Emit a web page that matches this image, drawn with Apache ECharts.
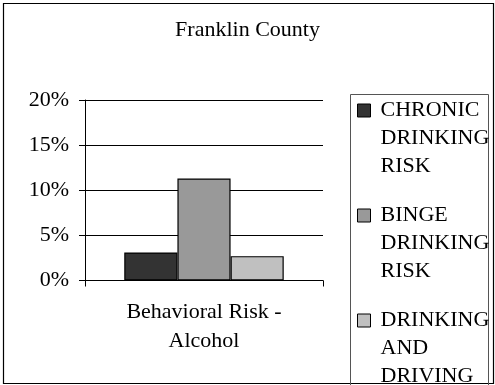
<!DOCTYPE html>
<html>
<head>
<meta charset="utf-8">
<script src="https://cdn.jsdelivr.net/npm/echarts@6/dist/echarts.min.js"></script>
<style>
  html, body { margin: 0; padding: 0; background: #fff; }
  #chart { width: 495px; height: 385px; }
</style>
</head>
<body>
<div id="chart"></div>
<script>
// Franklin County — alcohol-related behavioral risk
const categories = ['Behavioral Risk -\nAlcohol'];
const seriesNames = ['CHRONIC DRINKING RISK', 'BINGE DRINKING RISK', 'DRINKING AND DRIVING'];
const chronicValues = [3.1];
const bingeValues = [11.3];
const drivingValues = [2.7];
const yTicks = [0, 5, 10, 15, 20];

const FONT = "'Liberation Serif', 'Times New Roman', serif";
const colors = ['#333333', '#999999', '#c0c0c0'];
const seriesValues = [chronicValues, bingeValues, drivingValues];

// Legend swatch: a 13px square at the top of a tall box so it sits beside the first text line
const legendIcon = 'path://M0 0 M18 84 M0 7.5 L13 7.5 L13 20.5 L0 20.5 Z';

const chart = echarts.init(document.getElementById('chart'), null, { renderer: 'canvas' });

chart.setOption({
  animation: false,
  backgroundColor: '#ffffff',
  textStyle: { fontFamily: FONT, color: '#000' },
  title: {
    text: 'Franklin County',
    left: 'center',
    top: 14,
    textStyle: { fontFamily: FONT, fontSize: 22, fontWeight: 'normal', color: '#000' }
  },
  graphic: [
    {
      type: 'rect',
      shape: { x: 3.5, y: 3.5, width: 490, height: 380 },
      style: { fill: 'none', stroke: '#000', lineWidth: 1.2 },
      silent: true
    },
    {
      type: 'rect',
      shape: { x: 350.5, y: 94.5, width: 138, height: 300 },
      style: { fill: 'none', stroke: '#555', lineWidth: 1 },
      silent: true
    }
  ],
  legend: {
    orient: 'vertical',
    left: 357,
    top: 96,
    height: 330,
    padding: 0,
    itemGap: 20,
    itemWidth: 18,
    itemHeight: 84,
    icon: legendIcon,
    itemStyle: { borderColor: '#000', borderWidth: 1 },
    formatter: name => name.split(' ').join('\n'),
    textStyle: { fontFamily: FONT, fontSize: 22, lineHeight: 28, color: '#000' },
    data: seriesNames
  },
  grid: { left: 85, right: 172, top: 100, bottom: 104.5 },
  xAxis: {
    type: 'category',
    data: categories,
    axisLine: { lineStyle: { color: '#000', width: 1 } },
    axisTick: { show: true, length: 6, lineStyle: { color: '#000' } },
    axisLabel: { fontFamily: FONT, fontSize: 22, lineHeight: 29, color: '#000', margin: 17 }
  },
  yAxis: {
    type: 'value',
    min: 0,
    max: 20,
    interval: 5,
    axisLine: { show: true, lineStyle: { color: '#000', width: 1 } },
    axisTick: { show: true, length: 6, lineStyle: { color: '#000' } },
    axisLabel: {
      fontFamily: FONT, fontSize: 22, color: '#000', margin: 16,
      formatter: v => (yTicks.indexOf(v) >= 0 ? v + '%' : '')
    },
    splitLine: { show: true, lineStyle: { color: '#000', width: 1 } }
  },
  series: seriesNames.map((name, i) => ({
    name: name,
    type: 'bar',
    data: seriesValues[i],
    barGap: '0%',
    barCategoryGap: '33%',
    itemStyle: { color: colors[i], borderColor: '#000', borderWidth: 1.2 }
  }))
});
</script>
</body>
</html>
